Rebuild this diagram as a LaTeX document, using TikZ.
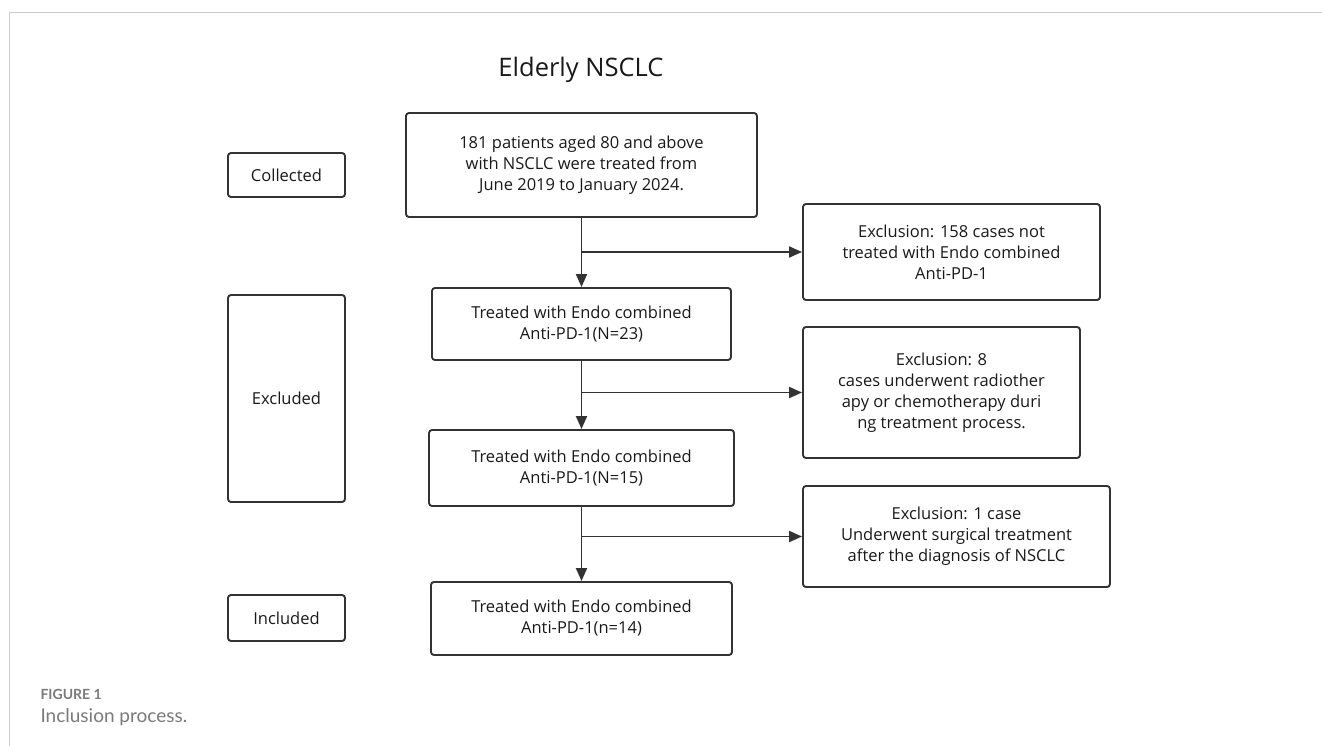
\documentclass[tikz,border=0pt]{standalone}
\usepackage{fontspec}
\setmainfont{Open Sans}
\newfontfamily\capfont{Lato}
\usetikzlibrary{arrows.meta}
\definecolor{linegray}{HTML}{333333}
\definecolor{framegray}{HTML}{CCCCCC}
\definecolor{capgray}{HTML}{7A7A7A}
\tikzset{
  box/.style={draw=linegray, line width=1.9pt, rounded corners=3pt, align=center, inner sep=0pt, text=black!90, font=\fontsize{16.5}{21}\selectfont},
  flow/.style={draw=linegray, line width=1.9pt, -{Triangle[length=13pt,width=11pt]}},
}

\begin{document}
\begin{tikzpicture}[x=1pt,y=-1pt]
			%%%%% START %%%%%
			\useasboundingbox (0,0) rectangle (1322,746);
			\draw[framegray, line width=1pt] (9,746) -- (9,13) -- (1322,13);
			
			\node[text=black!90, font=\fontsize{25.5}{30}\selectfont] (title) at (581,70) {Elderly NSCLC};
			
			% stage labels
			\node[box, minimum width=117pt, minimum height=44pt] (collected) at (286.5,175) {Collected};
			\node[box, minimum width=117pt, minimum height=207pt] (excluded) at (286.5,398.5) {Excluded};
			\node[box, minimum width=117pt, minimum height=46pt] (included) at (286.5,618) {Included};
			
			% main column
			\node[box, minimum width=351pt, minimum height=104pt] (all) at (581.5,165) {181 patients aged 80 and above\\with NSCLC were treated from\\June 2019 to January 2024.};
			\node[box, minimum width=299pt, minimum height=72pt] (n23) at (581.5,324) {Treated with Endo combined\\Anti-PD-1(N=23)};
			\node[box, minimum width=305pt, minimum height=76pt] (n15) at (581.5,468) {Treated with Endo combined\\Anti-PD-1(N=15)};
			\node[box, minimum width=301pt, minimum height=73pt] (n14) at (581.5,618.5) {Treated with Endo combined\\Anti-PD-1(n=14)};
			
			% exclusions
			\node[box, minimum width=297pt, minimum height=96pt] (ex1) at (951.5,252) {Exclusion: 158 cases not\\treated with Endo combined\\Anti-PD-1};
			\node[box, minimum width=277pt, minimum height=131pt] (ex2) at (941.5,392.5) {Exclusion: 8\\cases underwent radiother\\apy or chemotherapy duri\\ng treatment process.};
			\node[box, minimum width=307pt, minimum height=101pt] (ex3) at (956.5,536.5) {Exclusion: 1 case\\Underwent surgical treatment\\after the diagnosis of NSCLC};
			
			\draw[flow] (all) -- (n23);
			\draw[flow] (n23) -- (n15);
			\draw[flow] (n15) -- (n14);
			
			\coordinate (j1) at (all.south |- ex1.west);
			\coordinate (j2) at (n23.south |- ex2.west);
			\coordinate (j3) at (n15.south |- ex3.west);
			\draw[flow] (j1) -- (ex1.west);
			\draw[flow] (j2) -- (ex2.west);
			\draw[flow] (j3) -- (ex3.west);
			
			\node[anchor=west, text=capgray, font=\capfont\bfseries\fontsize{14}{16}\selectfont] (fig) at (37,694) {FIGURE 1};
			\node[anchor=west, text=capgray, font=\capfont\fontsize{19}{22}\selectfont] (cap) at (37,717) {Inclusion process.};
			%%%%% END %%%%%
\end{tikzpicture}
\end{document}
